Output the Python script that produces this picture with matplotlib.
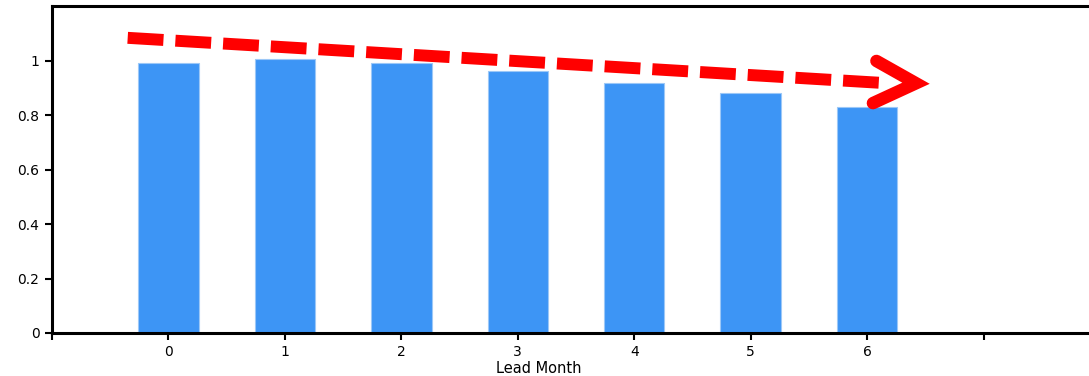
import matplotlib.pyplot as plt

# lead months and bar values
lead_months = [0, 1, 2, 3, 4, 5, 6]
values = [0.993, 1.007, 0.993, 0.963, 0.920, 0.881, 0.831]

y_ticks = [0, 0.2, 0.4, 0.6, 0.8, 1.0]
y_tick_labels = ["0", "0.2", "0.4", "0.6", "0.8", "1"]
x_ticks = [-1, 0, 1, 2, 3, 4, 5, 6, 7]
x_tick_labels = ["", "0", "1", "2", "3", "4", "5", "6", ""]

# trend arrow (annotation), data coordinates
trend_x = [-0.35, 6.1]
trend_y = [1.085, 0.92]
tip = (6.42, 0.918)
wing_upper = (6.08, 1.0)
wing_lower = (6.05, 0.845)

BAR_COLOR = "#3d95f5"


def main() -> None:
    figure = plt.figure(figsize=(10.89, 3.76), dpi=100)
    ax = figure.add_axes([52 / 1089, 43 / 376, 1048 / 1089, 327 / 376])

    ax.bar(
        lead_months,
        values,
        width=0.52,
        color=BAR_COLOR,
        edgecolor="#9cc8f7",
        linewidth=0.8,
        zorder=2,
    )

    # dashed trend line
    ax.plot(
        trend_x,
        trend_y,
        color="red",
        linewidth=8.6,
        linestyle=(0, (3.0, 1.0)),
        dash_capstyle="butt",
        zorder=3,
    )

    # chevron head
    ax.plot(
        [wing_upper[0], tip[0], wing_lower[0]],
        [wing_upper[1], tip[1], wing_lower[1]],
        color="red",
        linewidth=9,
        solid_capstyle="round",
        solid_joinstyle="miter",
        zorder=3,
    )

    ax.set_xlim(-1, 8)
    ax.set_ylim(0, 1.202)

    ax.set_yticks(y_ticks)
    ax.set_yticklabels(y_tick_labels)
    ax.set_xticks(x_ticks)
    ax.set_xticklabels(x_tick_labels)

    ax.tick_params(
        axis="both",
        direction="out",
        length=5,
        width=1.5,
        labelsize=10,
        pad=4,
    )

    ax.set_xlabel("Lead Month", fontsize=10.5)
    ax.xaxis.set_label_coords((539 - 52) / 1048, -0.085)

    for spine in ax.spines.values():
        spine.set_linewidth(2.2)
        spine.set_color("black")

    figure.savefig("out.png", dpi=100)
    plt.close(figure)


if __name__ == "__main__":
    main()
